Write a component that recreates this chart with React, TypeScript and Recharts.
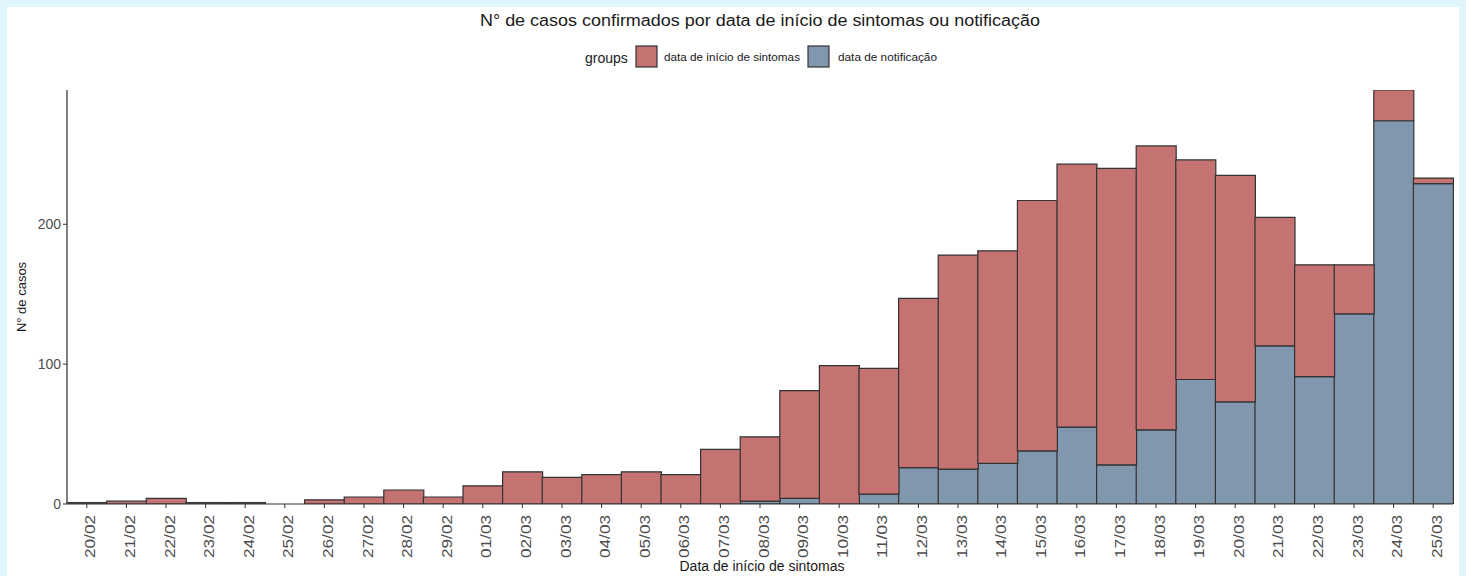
import React from "react";
import { BarChart, Bar, XAxis, YAxis } from "recharts";

const dates = [
  "20/02", "21/02", "22/02", "23/02", "24/02", "25/02", "26/02", "27/02", "28/02", "29/02",
  "01/03", "02/03", "03/03", "04/03", "05/03", "06/03", "07/03", "08/03", "09/03", "10/03",
  "11/03", "12/03", "13/03", "14/03", "15/03", "16/03", "17/03", "18/03", "19/03", "20/03",
  "21/03", "22/03", "23/03", "24/03", "25/03",
];

// Height of the full (red) bar: cases by symptom-onset date
const onsetTotals = [
  1, 2, 4, 1, 1, 0, 3, 5, 10, 5,
  13, 23, 19, 21, 23, 21, 39, 48, 81, 99,
  97, 147, 178, 181, 217, 243, 240, 256, 246, 235,
  205, 171, 171, 296, 233,
];

// Height of the blue part: cases by notification date
const notifTotals = [
  0, 0, 0, 0, 0, 0, 0, 0, 0, 0,
  0, 0, 0, 0, 0, 0, 0, 2, 4, 0,
  7, 26, 25, 29, 38, 55, 28, 53, 89, 73,
  113, 91, 136, 274, 229,
];

const yTicks = [0, 100, 200];

const RED = "#c47272";
const BLUE = "#8197ae";
const OUTLINE = "#333333";
const FONT = "'Liberation Sans', Arial, sans-serif";

const data = dates.map((d, i) => ({
  date: d,
  notif: notifTotals[i],
  onsetRest: Math.max(onsetTotals[i] - notifTotals[i], 0),
}));

const XTick = (props: any) => {
  const { x, y, payload } = props;
  return (
    <g transform={`translate(${x + 3},${y + 5})`}>
      <text
        transform="rotate(-90)"
        textAnchor="end"
        dominantBaseline="central"
        fontSize={15}
        fontFamily={FONT}
        fill="#4d4d4d"
        textLength={43}
        lengthAdjust="spacingAndGlyphs"
      >
        {payload.value}
      </text>
    </g>
  );
};

export default function App() {
  return (
    <div
      style={{
        position: "absolute",
        left: 0,
        top: 0,
        width: 1466,
        height: 576,
        background: "#e0f5fb",
        overflow: "hidden",
      }}
    >
      <div
        style={{
          position: "absolute",
          left: 7,
          top: 7,
          width: 1452,
          height: 569,
          background: "#ffffff",
        }}
      />
      <svg
        width={1466}
        height={576}
        style={{ position: "absolute", left: 0, top: 0 }}
      >
        <text
          x={760}
          y={26}
          textAnchor="middle"
          fontSize={16}
          fontFamily={FONT}
          fill="#1a1a1a"
          textLength={560}
          lengthAdjust="spacingAndGlyphs"
        >
          N° de casos confirmados por data de início de sintomas ou notificação
        </text>
        <text x={585} y={63} fontSize={14} fontFamily={FONT} fill="#1a1a1a">
          groups
        </text>
        <rect x={636} y={46} width={21} height={21} fill={RED} stroke={OUTLINE} strokeWidth={1.2} />
        <text
          x={664}
          y={61}
          fontSize={11}
          fontFamily={FONT}
          fill="#1a1a1a"
          textLength={136}
          lengthAdjust="spacingAndGlyphs"
        >
          data de início de sintomas
        </text>
        <rect x={808} y={46} width={21} height={21} fill={BLUE} stroke={OUTLINE} strokeWidth={1.2} />
        <text
          x={838}
          y={61}
          fontSize={11}
          fontFamily={FONT}
          fill="#1a1a1a"
          textLength={99}
          lengthAdjust="spacingAndGlyphs"
        >
          data de notificação
        </text>
        <text
          x={26}
          y={297}
          textAnchor="middle"
          fontSize={13}
          fontFamily={FONT}
          fill="#1a1a1a"
          transform="rotate(-90 26 297)"
        >
          N° de casos
        </text>
        <text
          x={762}
          y={571}
          textAnchor="middle"
          fontSize={14}
          fontFamily={FONT}
          fill="#1a1a1a"
        >
          Data de início de sintomas
        </text>
      </svg>
      <div style={{ position: "absolute", left: 0, top: 0 }}>
        <BarChart
          width={1466}
          height={576}
          data={data}
          margin={{ top: 90, right: 13, bottom: 12, left: 7 }}
          barCategoryGap={0}
          barGap={0}
        >
          <XAxis
            dataKey="date"
            interval={0}
            height={60}
            tick={<XTick />}
            tickLine={{ stroke: "#333", strokeWidth: 1 }}
            tickSize={4}
            axisLine={{ stroke: "#333", strokeWidth: 1.2 }}
          />
          <YAxis
            width={60}
            domain={[0, 296]}
            ticks={yTicks}
            allowDataOverflow
            tick={{ fontSize: 14, fill: "#4d4d4d", fontFamily: FONT }}
            tickLine={{ stroke: "#333", strokeWidth: 1 }}
            tickSize={4}
            axisLine={{ stroke: "#555", strokeWidth: 1.5 }}
          />
          <Bar
            dataKey="notif"
            stackId="a"
            fill={BLUE}
            stroke={OUTLINE}
            strokeWidth={1.2}
            isAnimationActive={false}
          />
          <Bar
            dataKey="onsetRest"
            stackId="a"
            fill={RED}
            stroke={OUTLINE}
            strokeWidth={1.2}
            isAnimationActive={false}
          />
        </BarChart>
      </div>
    </div>
  );
}
